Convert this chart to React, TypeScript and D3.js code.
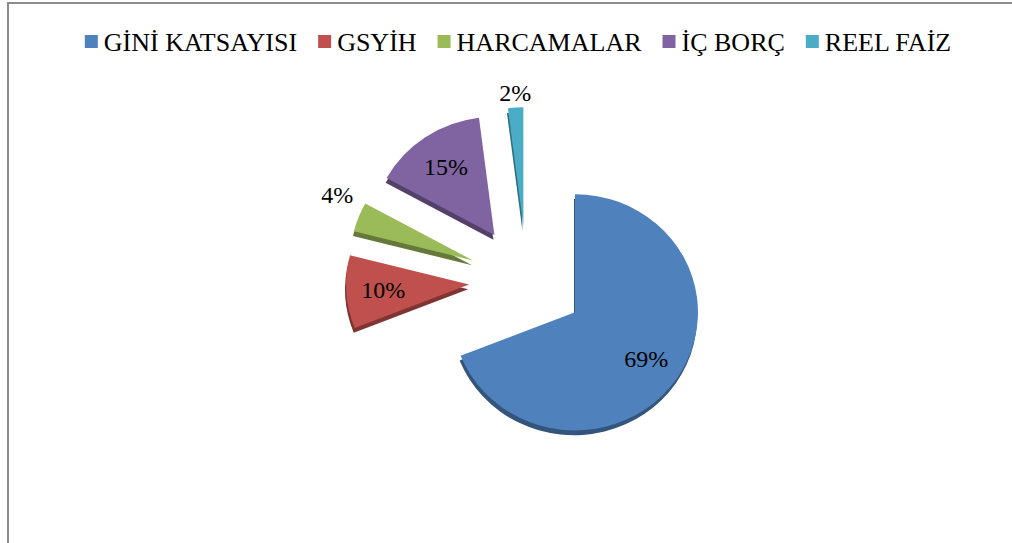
import React, { useEffect, useRef } from "react";
import * as d3 from "d3";

const categories = ["GİNİ KATSAYISI", "GSYİH", "HARCAMALAR", "İÇ BORÇ", "REEL FAİZ"];
const shares = [69, 10, 4, 15, 2];
const colors = ["#4F81BD", "#C0504D", "#9BBB59", "#8064A2", "#4BACC6"];

const FONT = '"Times New Roman", Tinos, "Liberation Serif", "DejaVu Serif", serif';

const App = () => {
  const ref = useRef<SVGSVGElement>(null);

  useEffect(() => {
    const svg = d3.select(ref.current);
    svg.selectAll("*").remove();

    // chart frame (only left and top edges fall inside the picture)
    svg
      .append("rect")
      .attr("x", 8)
      .attr("y", 3)
      .attr("width", 1200)
      .attr("height", 800)
      .attr("fill", "white")
      .attr("stroke", "#8c8c8c")
      .attr("stroke-width", 2);

    // legend, laid out left to right then centred
    const legend = svg.append("g");
    let x = 0;
    categories.forEach((c, i) => {
      const g = legend.append("g").attr("transform", `translate(${x},0)`);
      g.append("rect")
        .attr("x", 0)
        .attr("y", -16)
        .attr("width", 13)
        .attr("height", 13)
        .attr("fill", colors[i]);
      const t = g
        .append("text")
        .attr("x", 19)
        .attr("y", 0)
        .attr("font-family", FONT)
        .attr("font-size", 26)
        .attr("fill", "#000")
        .text(c);
      const w = (t.node() as SVGTextElement).getComputedTextLength();
      x += 19 + w + 21;
    });
    const legendW = x - 21;
    legend.attr("transform", `translate(${518 - legendW / 2},51)`);

    // exploded pie with a little depth
    const cx = 527;
    const cy = 281;
    const r = 123;
    const explode = 58;
    const ky = 0.96;
    const depth = 5;

    const pie = d3.pie<number>().sort(null).value((d) => d);
    const arcs = pie(shares);
    const arc = d3.arc<d3.PieArcDatum<number>>().innerRadius(0).outerRadius(r);

    const pg = svg.append("g").attr("transform", `translate(${cx},${cy}) scale(1,${ky})`);

    arcs.forEach((a, i) => {
      const mid = (a.startAngle + a.endAngle) / 2;
      const dx = Math.sin(mid) * explode;
      const dy = -Math.cos(mid) * explode;
      const s = pg.append("g").attr("transform", `translate(${dx},${dy})`);
      s.append("path")
        .attr("d", arc(a))
        .attr("transform", `translate(-1,${depth})`)
        .attr("fill", d3.color(colors[i])!.darker(1.2).formatHex());
      s.append("path").attr("d", arc(a)).attr("fill", colors[i]);
    });

    // data labels
    const total = d3.sum(shares);
    arcs.forEach((a, i) => {
      const mid = (a.startAngle + a.endAngle) / 2;
      const ux = Math.sin(mid);
      const uy = -Math.cos(mid);
      const ax = cx + ux * explode;
      const ay = cy + uy * explode * ky;
      const label = `${Math.round((shares[i] / total) * 100)}%`;
      const t = svg
        .append("text")
        .attr("font-family", FONT)
        .attr("font-size", 24)
        .attr("fill", "#000")
        .attr("text-anchor", "middle")
        .attr("dy", "0.35em")
        .text(label);
      if (shares[i] / total >= 0.05) {
        t.attr("x", ax + ux * r * 0.7).attr("y", ay + uy * r * 0.7 * ky);
      } else {
        const w = (t.node() as SVGTextElement).getComputedTextLength();
        const px = ax + ux * (r + 6);
        const py = ay + uy * (r + 6) * ky;
        const sideways = Math.abs(ux) >= 0.2;
        t.attr("x", sideways ? px + Math.sign(ux) * (w / 2) : px)
          .attr("y", py + Math.sign(uy) * (sideways ? 20 : 9));
      }
    });
  }, []);

  return (
    <div style={{ position: "absolute", left: 0, top: 0 }}>
      <svg ref={ref} width={1012} height={543} style={{ display: "block" }} />
    </div>
  );
};

export default App;
